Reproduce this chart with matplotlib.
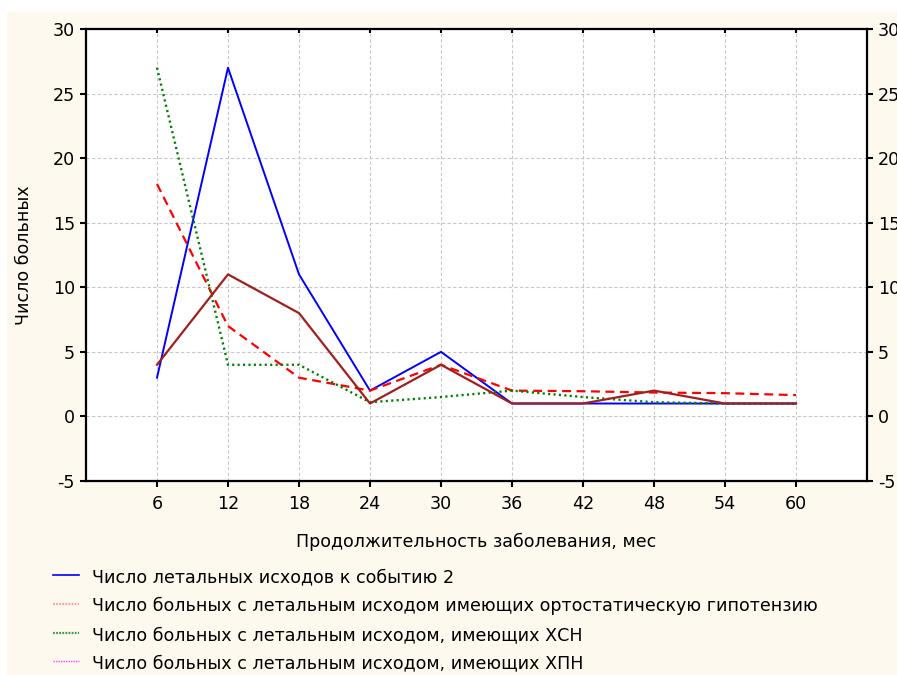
import matplotlib
matplotlib.use("Agg")
import matplotlib.pyplot as plt
from matplotlib.lines import Line2D
from matplotlib.patches import Rectangle

plt.rcParams['font.family'] = ['DejaVu Sans']

months = [6, 12, 18, 24, 30, 36, 42, 48, 54, 60]
deaths_event2 = [3, 27, 11, 2, 5, 1, 1, 1, 1, 1]
deaths_orthostatic = [18, 7, 3, 2, 4, 2, 1.95, 1.85, 1.8, 1.65]
deaths_chf = [27, 4, 4, 1.1, 1.5, 2, 1.5, 1.1, 1, 1]
deaths_ckd = [4, 11, 8, 1, 4, 1, 1, 2, 1, 1]

labels = [
    "Число летальных исходов к событию 2",
    "Число больных с летальным исходом имеющих ортостатическую гипотензию",
    "Число больных с летальным исходом, имеющих ХСН",
    "Число больных с летальным исходом, имеющих ХПН",
]
yticks = [-5, 0, 5, 10, 15, 20, 25, 30]
FS = 12.6

W, H = 897, 675
fig = plt.figure(figsize=(W / 100, H / 100), dpi=100)
fig.patch.set_facecolor('white')
fig.patches.append(Rectangle((7 / W, 0), 1 - 7 / W, 1 - 12 / H, transform=fig.transFigure,
                             facecolor='#FDF9EF', edgecolor='none', zorder=-10))

ax = fig.add_axes([86 / W, 1 - 481 / H, (867 - 86) / W, (481 - 29) / H])
ax.set_facecolor('white')

ax.plot(months, deaths_event2, color='#0000FF', lw=1.4, zorder=3)
ax.plot(months, deaths_orthostatic, color='#FF0000', lw=1.6, dashes=(4, 2.5), zorder=3)
ax.plot(months, deaths_chf, color='#008000', lw=1.7, dashes=(0.9, 1.4), zorder=3)
ax.plot(months, deaths_ckd, color='#A0201E', lw=1.6, zorder=3)

ax.set_xlim(0, 66)
ax.set_ylim(-5, 30)
ax.set_xticks(months)
ax.set_xticklabels([str(m) for m in months])
ax.set_yticks(yticks)
ax.set_yticklabels([str(v) for v in yticks])
ax.grid(True, color='#C8C8C8', lw=0.8, linestyle=(0, (3, 2)))
for s in ax.spines.values():
    s.set_linewidth(1.6)
    s.set_color('black')

ax.tick_params(axis='both', labelsize=FS, colors='black', width=1.5, length=4, direction='out')
ax.tick_params(axis='y', right=True, labelright=True, pad=4)
ax.tick_params(axis='x', top=True, pad=6)
for t in ax.xaxis.get_major_ticks():
    t.tick2line.set_marker(3)  # inward top tick
    t.tick2line.set_markersize(3)

ax.set_xlabel("Продолжительность заболевания, мес", fontsize=FS, labelpad=14)
ax.set_ylabel("Число больных", fontsize=FS, labelpad=14)

handle_styles = [
    dict(color='#0000FF', lw=1.2, linestyle='-'),
    dict(color='#FFA0A0', lw=1.6, linestyle=(0, (0.8, 0.6))),
    dict(color='#3A9A3A', lw=1.6, linestyle=(0, (0.8, 0.6))),
    dict(color='#FF40FF', lw=1.0, linestyle=(0, (1, 0.8))),
]
rows = [577, 606, 635, 663]
for lab, st, yp in zip(labels, handle_styles, rows):
    yy = 1 - yp / H
    fig.add_artist(Line2D([53 / W, 79 / W], [yy + 2 / H, yy + 2 / H], transform=fig.transFigure, **st))
    fig.text(92 / W, yy, lab, fontsize=FS, va='center', ha='left')

fig.savefig("out.png", dpi=100)
